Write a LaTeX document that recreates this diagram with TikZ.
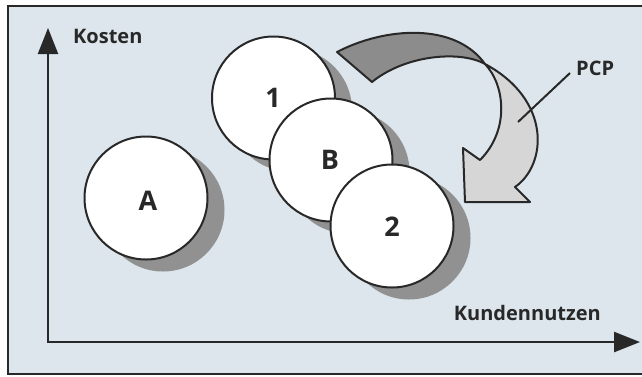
\documentclass[tikz,border=0pt]{standalone}
\usepackage{fontspec}
\setmainfont{Open Sans}
\usetikzlibrary{arrows.meta}
\definecolor{bgc}{RGB}{220,230,236}
\definecolor{ink}{RGB}{40,40,40}
\definecolor{shadowc}{RGB}{145,145,145}
\definecolor{darkarrow}{RGB}{140,140,140}
\definecolor{lightarrow}{RGB}{214,214,214}
\tikzset{
  ball/.style={circle, draw=ink, line width=2pt, fill=white, minimum size=123pt, inner sep=0pt},
  ballshadow/.style={circle, fill=shadowc, minimum size=123pt, inner sep=0pt},
  balltext/.style={font=\bfseries\fontsize{27}{27}\selectfont, text=ink, inner sep=0pt, anchor=base},
  lbl/.style={font=\bfseries\fontsize{20}{20}\selectfont, text=ink, inner sep=0pt},
  axis/.style={draw=ink, line width=2.5pt, -{Triangle[length=26pt,width=20pt]}},
  ribbon/.style={draw=ink, line width=2pt, line join=round}
}
\begin{document}
\begin{tikzpicture}[x=1pt,y=-1pt]
\useasboundingbox (0,0) rectangle (642,376);
\fill[white!97!bgc] (0,0) rectangle (642,376);
\fill[bgc] (8,6) rectangle (642,374);
\draw[ink, line width=1.8pt] (642,6) -- (8,6) -- (8,374) -- (642,374);
% axes
\coordinate (origin) at (48,342);
\coordinate (ytip) at (48,28);
\coordinate (xtip) at (640,342);
\draw[axis] (origin) -- (ytip);
\draw[axis] ([xshift=-1.25pt]origin) -- (xtip);
% circles
\def\sx{17}\def\sy{12}
\node[ballshadow] (sA) at (146+\sx,198+\sy) {};
\node[ball] (A) at (146,198) {};
\node[ballshadow] (s1) at (273.5+\sx,98+\sy) {};
\node[ball] (c1) at (273.5,98) {};
\node[ballshadow] (sB) at (331+\sx,160+\sy) {};
\node[ball] (B) at (331,160) {};
\node[ballshadow] (s2) at (392+\sx,226+\sy) {};
\node[ball] (c2) at (392,226) {};
\node[balltext] (tA) at (148,210) {A};
\node[balltext] (t1) at (273,107) {1};
\node[balltext] (tB) at (330,169) {B};
\node[balltext] (t2) at (392,236) {2};
% curved arrow
\coordinate (J) at (485,64);
\fill[darkarrow] (337,52) .. controls (385,27) and (455,22) .. (J)
  .. controls (460,50) and (405,55) .. (372,82) -- cycle;
\draw[ribbon] (337,52) .. controls (385,27) and (455,22) .. (J)
  .. controls (460,50) and (405,55) .. (372,82) -- cycle;
\filldraw[ribbon, fill=lightarrow] (J) .. controls (505,85) and (510,130) .. (480,160)
  -- (463,148) -- (465,202) -- (530,202) -- (515,187)
  .. controls (547,165) and (552,100) .. (J) -- cycle;
% labels
\node[lbl, anchor=base west] (kosten) at (73,43) {Kosten};
\node[lbl, anchor=base east] (kunden) at (601,320) {Kundennutzen};
\node[lbl, anchor=base west] (pcp) at (576,75) {PCP};
\coordinate (pcpend) at (518,122);
\draw[ink, line width=2pt] (570,73) -- (pcpend);
\end{tikzpicture}
\end{document}
